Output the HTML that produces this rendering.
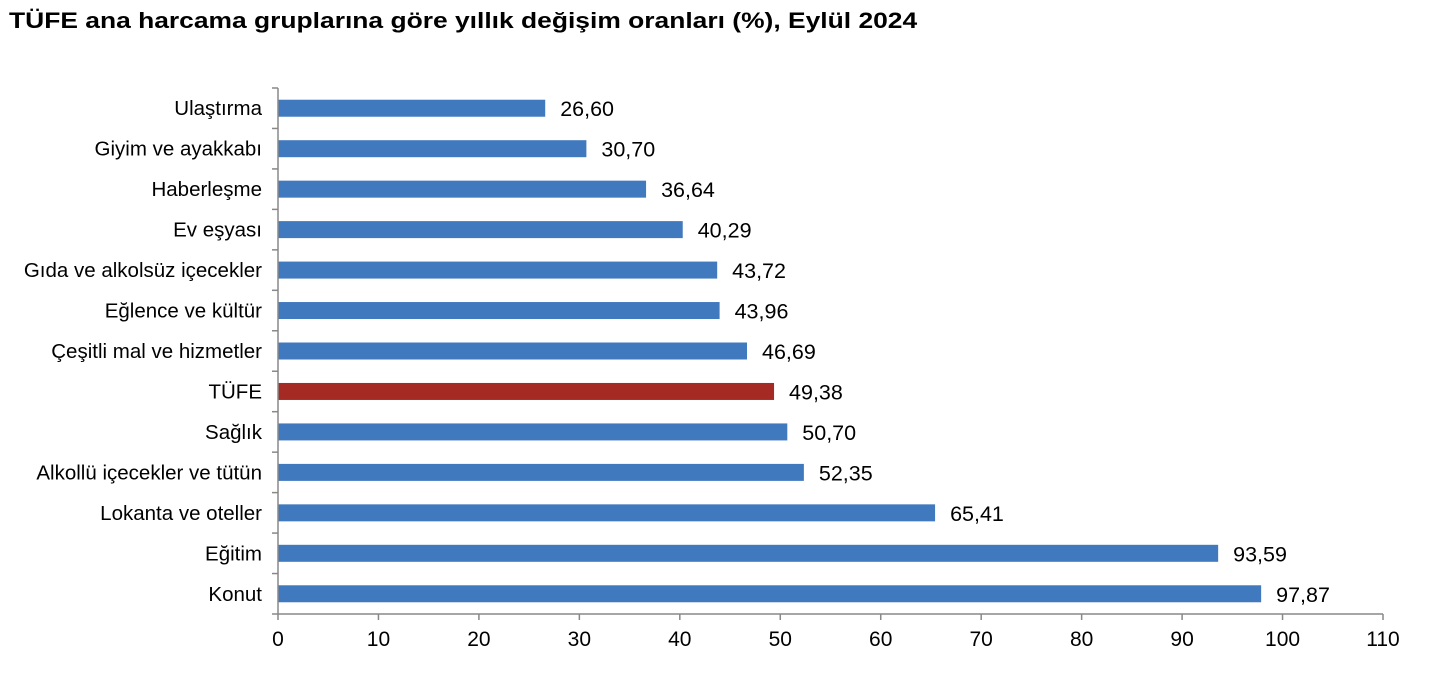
<!DOCTYPE html>
<html><head><meta charset="utf-8"><style>
body{margin:0;background:#fff;width:1450px;height:688px;overflow:hidden;font-family:"Liberation Sans",Arial,sans-serif}
#title{position:absolute;left:9px;top:8px;font-size:22px;font-weight:bold;color:#000;transform:scaleX(1.2);transform-origin:0 0;white-space:nowrap}
</style></head><body>
<div id="title">TÜFE ana harcama gruplarına göre yıllık değişim oranları (%), Eylül 2024</div>
<svg id="chart" width="1450" height="688" style="position:absolute;left:0;top:0"></svg>
<script>
const categories=["Ulaştırma","Giyim ve ayakkabı","Haberleşme","Ev eşyası","Gıda ve alkolsüz içecekler","Eğlence ve kültür","Çeşitli mal ve hizmetler","TÜFE","Sağlık","Alkollü içecekler ve tütün","Lokanta ve oteller","Eğitim","Konut"];
const values=[26.60,30.70,36.64,40.29,43.72,43.96,46.69,49.38,50.70,52.35,65.41,93.59,97.87];
const tickLabels=[0,10,20,30,40,50,60,70,80,90,100,110];
const highlight="TÜFE";
const svg=document.getElementById('chart');
const NS="http://www.w3.org/2000/svg";
const x0=278,x1=1383,yTop=88,yBot=614,maxV=110;
const band=(yBot-yTop)/categories.length;
const xs=v=>x0+(v/maxV)*(x1-x0);
const yc=i=>yTop+band*(i+0.5);
function mk(t,a){const e=document.createElementNS(NS,t);for(const k in a)e.setAttribute(k,a[k]);svg.appendChild(e);return e;}
categories.forEach((c,i)=>{
  const r=mk('rect',{x:x0,y:yc(i)-8.5,width:xs(values[i])-x0,height:17,fill:c===highlight?'#a52a24':'#4179be'});
  
  
  const l=mk('text',{x:262,y:yc(i)+7,'text-anchor':'end','font-size':20.5,fill:'#000'});
  l.textContent=c;
  
  
  const v=mk('text',{x:xs(values[i])+15,y:yc(i)+8,'font-size':21.5,fill:'#000'});
  v.textContent=values[i].toFixed(2).replace('.',',');
  
  
});
for(let i=0;i<=categories.length;i++){
  const y=yTop+band*i;
  const t=mk('line',{x1:x0-6,x2:x0,y1:y,y2:y,stroke:'#888','stroke-width':1.5});
  
  
}
const ya=mk('line',{x1:x0,x2:x0,y1:yTop,y2:yBot,stroke:'#888','stroke-width':1.5});


const xa=mk('line',{x1:x0,x2:x1,y1:yBot,y2:yBot,stroke:'#888','stroke-width':1.5});


tickLabels.forEach(v=>{
  const t=mk('line',{x1:xs(v),x2:xs(v),y1:yBot,y2:yBot+6,stroke:'#888','stroke-width':1.5});
  
  
  const l=mk('text',{x:xs(v),y:yBot+32,'text-anchor':'middle','font-size':21,fill:'#000'});
  l.textContent=v;
  
  
});
</script>
</body></html>
